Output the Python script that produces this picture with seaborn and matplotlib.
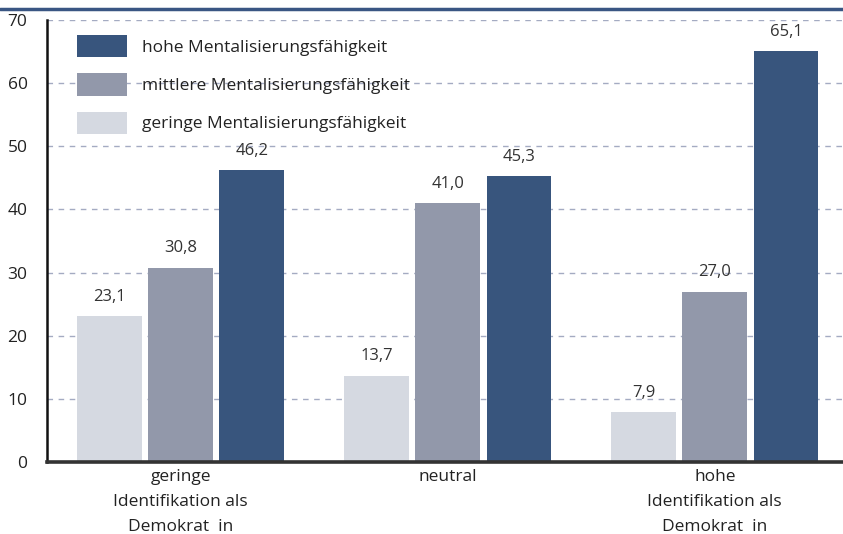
import matplotlib.pyplot as plt
import pandas as pd
import seaborn as sns
from matplotlib.lines import Line2D

# data
groups = ["geringe\nIdentifikation als\nDemokrat  in", "neutral", "hohe\nIdentifikation als\nDemokrat  in"]
levels = ["geringe Mentalisierungsfähigkeit", "mittlere Mentalisierungsfähigkeit", "hohe Mentalisierungsfähigkeit"]
geringe = [23.1, 13.7, 7.9]
mittlere = [30.8, 41.0, 27.0]
hohe = [46.2, 45.3, 65.1]
yticks = [0, 10, 20, 30, 40, 50, 60, 70]

colors = ["#d5d9e1", "#9298aa", "#38557d"]

rows = []
for lvl, vals in zip(levels, [geringe, mittlere, hohe]):
    for g, v in zip(groups, vals):
        rows.append({"Gruppe": g, "Stufe": lvl, "Wert": v})
df = pd.DataFrame(rows)

sns.set_theme(style="white")
plt.rcParams["font.family"] = ["Open Sans", "DejaVu Sans"]

fig = plt.figure(figsize=(8.43, 5.34), dpi=100)
ax = fig.add_axes([0.0558, 0.1348, 0.9442, 0.8277])

sns.barplot(data=df, x="Gruppe", y="Wert", hue="Stufe", order=groups, hue_order=levels,
            palette=colors, width=0.8, gap=0.09, saturation=1, ax=ax, zorder=3,
            linewidth=0)

for cont in ax.containers:
    ax.bar_label(cont, labels=[f"{b.get_height():.1f}".replace(".", ",") for b in cont],
                 padding=8, fontsize=12, color="#333333")

ax.set_ylim(0, 70)
ax.set_xlim(-0.5, 2.48)
ax.set_yticks(yticks)
ax.set_xlabel("")
ax.set_ylabel("")
ax.tick_params(axis="y", labelsize=12.5, length=0, pad=14, labelcolor="#222222")
ax.tick_params(axis="x", labelsize=12.5, length=0, pad=5, labelcolor="#222222")
for lab in ax.get_xticklabels():
    lab.set_linespacing(1.75)

for t in yticks[1:]:
    ax.axhline(t, color="#a4abc2", linewidth=1, linestyle=(0, (4, 4)), zorder=1)

for s in ["top", "right"]:
    ax.spines[s].set_visible(False)
ax.spines["left"].set_color("#111111")
ax.spines["left"].set_linewidth(1.8)
ax.spines["bottom"].set_color("#333333")
ax.spines["bottom"].set_linewidth(2.6)
ax.spines["bottom"].set_zorder(4)

handles, labels = ax.get_legend_handles_labels()
ax.legend(handles[::-1], labels[::-1], loc="upper left", bbox_to_anchor=(0.0377, 0.966),
          frameon=False, fontsize=12.5, handlelength=2.9, handleheight=1.6,
          labelspacing=0.92, handletextpad=0.85, borderaxespad=0, borderpad=0,
          labelcolor="#222222")

# blue rule at the top of the figure
fig.add_artist(Line2D([0, 1], [0.984, 0.984], transform=fig.transFigure,
                      color="#3a5683", linewidth=2.5))

fig.savefig("out.png", dpi=100)
